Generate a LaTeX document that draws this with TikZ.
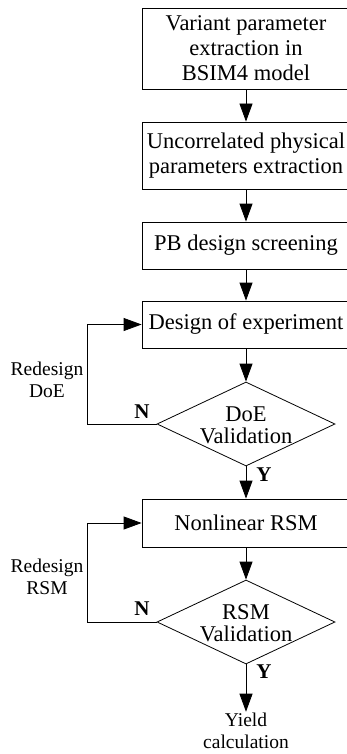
\documentclass[tikz,border=0pt]{standalone}
\usepackage{fontspec}
\setmainfont{Liberation Serif}
\usetikzlibrary{shapes.geometric,arrows.meta}

\begin{document}
\begin{tikzpicture}[x=1pt,y=-1pt,line width=0.8pt,>={Triangle[length=18pt,width=13pt]},
    box/.style={draw,rectangle,minimum width=208pt,inner sep=0pt,align=center,font=\fontsize{22.5}{25}\selectfont},
    decision/.style={draw,diamond,minimum width=178pt,minimum height=84pt,inner sep=0pt},
    dectext/.style={align=center,font=\fontsize{22.5}{22}\selectfont},
    note/.style={align=center,font=\fontsize{19.5}{22}\selectfont},
    answer/.style={font=\fontsize{21}{22}\selectfont\bfseries}]
        \useasboundingbox (0,0) rectangle (347,754);

        % main steps
        \node[box,minimum height=81pt] (extract) at (246,48.5) {Variant parameter\\extraction in\\BSIM4 model};
        \node[box,minimum height=67pt] (uncorr) at (246,155.5) {Uncorrelated physical\\parameters extraction};
        \node[box,minimum height=47pt] (screen) at (246,245.5) {PB design screening};
        \node[box,minimum height=47pt] (design) at (246,324.5) {Design of experiment};

        % first check
        \node[decision] (doecheck) at (246,424) {};
        \node[dectext] (doetext) at (246,425) {DoE\\Validation};

        \node[box,minimum height=48pt] (rsm) at (246,523) {Nonlinear RSM};

        % second check
        \node[decision] (rsmcheck) at (246,622) {};
        \node[dectext] (rsmtext) at (246,623) {RSM\\Validation};

        \node[note,inner sep=1pt] (yield) at (246,731) {Yield\\calculation};

        % forward arrows
        \draw[->] (extract) -- (uncorr);
        \draw[->] (uncorr) -- (screen);
        \draw[->] (screen) -- (design);
        \draw[->] (design) -- (doecheck);
        \draw[->] (doecheck) -- (rsm);
        \draw[->] (rsm) -- (rsmcheck);
        \draw[->] (rsmcheck) -- (yield);

        % feedback loops
        \draw[->] (doecheck.west) -- ++(-69,0) |- (design.west);
        \draw[->] (rsmcheck.west) -- ++(-69,0) |- (rsm.west);

        % labels
        \node[note] (redoe) at (47,380) {Redesign\\DoE};
        \node[note] (redrsm) at (47,577) {Redesign\\RSM};
        \node[answer] (n1) at (142,412) {N};
        \node[answer] (n2) at (142,609) {N};
        \node[answer] (y1) at (264,475) {Y};
        \node[answer] (y2) at (264,672) {Y};
\end{tikzpicture}
\end{document}
